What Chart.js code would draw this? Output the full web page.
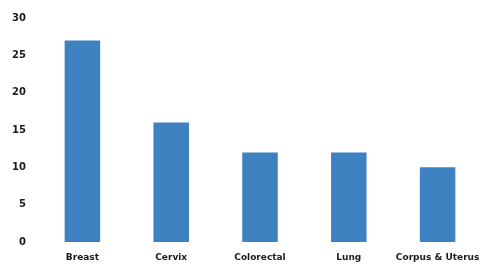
<!DOCTYPE html>
<html>
<head>
<meta charset="utf-8">
<script src="https://cdn.jsdelivr.net/npm/chart.js@4"></script>
<style>
  html, body { margin: 0; padding: 0; background: #fff; }
  #chartCanvas { display: block; }
</style>
</head>
<body>
<canvas id="chartCanvas" width="482" height="269"></canvas>
<script>
// --- data ---
const sites = ["Breast", "Cervix", "Colorectal", "Lung", "Corpus & Uterus"];
const percents = [27, 16, 12, 12, 10];
const yTicks = [0, 5, 10, 15, 20, 25, 30];

const canvas = document.getElementById("chartCanvas");

new Chart(canvas, {
  type: "bar",
  data: {
    labels: sites,
    datasets: [{
      data: percents,
      backgroundColor: "#3d81c1",
      categoryPercentage: 1,
      barPercentage: 0.4
    }]
  },
  options: {
    responsive: false,
    animation: false,
    layout: { autoPadding: false, padding: { top: 14, right: 0, left: 0, bottom: 0 } },
    plugins: { legend: { display: false }, tooltip: { enabled: false } },
    scales: {
      x: {
        // fixed height, and let the last label run to the canvas edge
        afterFit: axis => {
          axis.height = 27;
          axis.paddingLeft = 0;
          axis.paddingRight = 0;
        },
        grid: { display: false, drawTicks: false },
        border: { display: false },
        ticks: {
          padding: 10,
          color: "#1a1a1a",
          font: { family: "DejaVu Sans", size: 9, weight: "bold" },
          maxRotation: 0,
          autoSkip: false
        }
      },
      y: {
        min: 0,
        max: 30,
        afterBuildTicks: axis => { axis.ticks = yTicks.map(v => ({ value: v })); },
        afterFit: axis => { axis.width = 38; },
        grid: { display: false, drawTicks: false },
        border: { display: false },
        ticks: {
          padding: 12,
          color: "#1a1a1a",
          font: { family: "DejaVu Sans", size: 10, weight: "bold" }
        }
      }
    }
  }
});
</script>
</body>
</html>
